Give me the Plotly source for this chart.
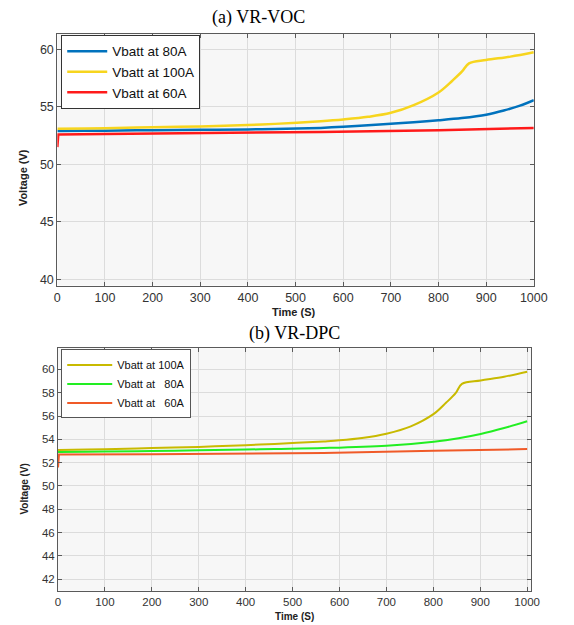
import plotly.graph_objects as go

# ---------------- data (a) VR-VOC ----------------
t_a80 = [0, 2, 100, 200, 300, 400, 457, 553, 600, 652, 700, 748, 800, 849, 900, 937, 971, 1000]
v_a80 = [52.9, 52.9, 52.93, 52.97, 53.0, 53.04, 53.07, 53.17, 53.26, 53.4, 53.53, 53.67, 53.84, 54.03, 54.32, 54.68, 55.1, 55.58]

t_a100 = [0, 2, 100, 200, 300, 400, 457, 553, 600, 652, 700, 748, 800, 829, 849, 864, 900, 951, 1000]
v_a100 = [53.1, 53.1, 53.15, 53.22, 53.3, 53.42, 53.52, 53.75, 53.9, 54.13, 54.48, 55.15, 56.25, 57.27, 58.05, 58.78, 59.07, 59.36, 59.74]

t_a60 = [0, 2, 100, 300, 457, 553, 800, 1000]
v_a60 = [51.5, 52.6, 52.65, 52.7, 52.75, 52.82, 52.97, 53.17]

# ---------------- data (b) VR-DPC ----------------
t_b100 = [0, 2, 100, 200, 300, 400, 462, 566, 600, 648, 700, 752, 801, 827, 848, 861, 901, 951, 1000]
v_b100 = [53.09, 53.09, 53.15, 53.25, 53.35, 53.5, 53.6, 53.82, 53.91, 54.11, 54.48, 55.11, 56.18, 57.13, 57.99, 58.76, 59.05, 59.37, 59.8]

t_b80 = [0, 2, 100, 200, 300, 400, 462, 566, 700, 801, 854, 901, 951, 1000]
v_b80 = [52.9, 52.9, 52.95, 53.0, 53.05, 53.12, 53.17, 53.25, 53.45, 53.8, 54.1, 54.46, 54.97, 55.55]

t_b60 = [0, 2, 200, 462, 566, 801, 1000]
v_b60 = [51.58, 52.69, 52.72, 52.77, 52.82, 53.02, 53.16]

ticks_x = [0, 100, 200, 300, 400, 500, 600, 700, 800, 900, 1000]
ticks_ya = [40, 45, 50, 55, 60]
ticks_yb = [42, 44, 46, 48, 50, 52, 54, 56, 58, 60]

W, H = 574, 625
fx = lambda px: px / W
fy = lambda py: 1 - py / H

SM = 1.0
fig = go.Figure()
fig.add_trace(go.Scatter(x=t_a80, y=v_a80, mode="lines", name="Vbatt at 80A",
                         line=dict(color="#0072BD", width=2.5, shape="spline", smoothing=SM),
                         xaxis="x", yaxis="y", legend="legend"))
fig.add_trace(go.Scatter(x=t_a100, y=v_a100, mode="lines", name="Vbatt at 100A",
                         line=dict(color="#F7D51E", width=2.5, shape="spline", smoothing=SM),
                         xaxis="x", yaxis="y", legend="legend"))
fig.add_trace(go.Scatter(x=t_a60, y=v_a60, mode="lines", name="Vbatt at 60A",
                         line=dict(color="#FF1A1A", width=2.5),
                         xaxis="x", yaxis="y", legend="legend"))

fig.add_trace(go.Scatter(x=t_b100, y=v_b100, mode="lines", name="Vbatt at 100A",
                         line=dict(color="#C8BA00", width=2, shape="spline", smoothing=SM),
                         xaxis="x2", yaxis="y2", legend="legend2"))
fig.add_trace(go.Scatter(x=t_b80, y=v_b80, mode="lines", name="Vbatt at \u00a0\u00a080A",
                         line=dict(color="#22EE22", width=2, shape="spline", smoothing=SM),
                         xaxis="x2", yaxis="y2", legend="legend2"))
fig.add_trace(go.Scatter(x=t_b60, y=v_b60, mode="lines", name="Vbatt at \u00a0\u00a060A",
                         line=dict(color="#F05A28", width=2),
                         xaxis="x2", yaxis="y2", legend="legend2"))

axis_common = dict(showline=True, linecolor="#5a5a5a", linewidth=1, mirror="ticks",
                   ticks="inside", ticklen=4, tickcolor="#5a5a5a",
                   showgrid=True, gridcolor="#dcdcdc", gridwidth=1, zeroline=False,
                   tickfont=dict(family="Liberation Sans, Arial", size=12.5, color="#333333"))
axis_b = {**axis_common, "tickfont": dict(family="Liberation Sans, Arial", size=11.5, color="#333333")}

fig.update_layout(
    width=W, height=H, margin=dict(l=0, r=0, t=0, b=0),
    paper_bgcolor="white", plot_bgcolor="#f7f7f7",
    xaxis=dict(domain=[fx(56), fx(547)], range=[0, 1000], tickvals=ticks_x, anchor="y", **axis_common),
    yaxis=dict(domain=[fy(286), fy(34)], range=[39.48, 61.33], tickvals=ticks_ya, anchor="x", **axis_common),
    xaxis2=dict(domain=[fx(56.7), fx(544)], range=[0, 1008], tickvals=ticks_x, anchor="y2", **axis_b),
    yaxis2=dict(domain=[fy(591.7), fy(349)], range=[41.0, 61.8], tickvals=ticks_yb, anchor="x2", **axis_b),
    legend=dict(x=fx(60), y=fy(35), xanchor="left", yanchor="top", bgcolor="white",
                bordercolor="#333333", borderwidth=1, tracegroupgap=0, itemwidth=40,
                font=dict(family="Liberation Sans, Arial", size=13.5, color="#111111")),
    legend2=dict(x=fx(60), y=fy(350), xanchor="left", yanchor="top", bgcolor="white",
                 bordercolor="#555555", borderwidth=1, tracegroupgap=0, itemwidth=45,
                 font=dict(family="Liberation Sans, Arial", size=11, color="#111111")),
    showlegend=True,
)

def note(text, x, y, size, family="Liberation Sans, Arial", angle=0, color="#222222"):
    return dict(text=text, x=fx(x), y=fy(y), xref="paper", yref="paper", xanchor="center",
                yanchor="middle", textangle=angle, showarrow=False,
                font=dict(family=family, size=size, color=color))

ann = [
    note("(a) VR-VOC", 263, 18, 18, "Liberation Serif, Times New Roman", color="black"),
    note("(b) VR-DPC", 300, 334, 18, "Liberation Serif, Times New Roman", color="black"),
    note("<b>Time (S)</b>", 300, 312, 11),
    note("<b>Time (S)</b>", 300, 617, 10),
    note("<b>Voltage (V)</b>", 20, 178, 11, angle=-90),
    note("<b>Voltage (V)</b>", 22, 490, 10, angle=-90),
]
fig.update_layout(annotations=ann)

fig.write_html("out.html")
